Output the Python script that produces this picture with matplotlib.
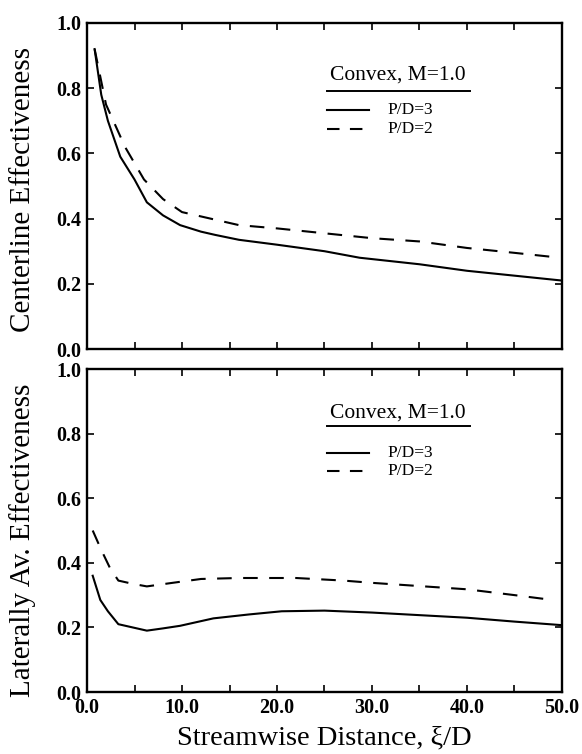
import matplotlib
matplotlib.use("Agg")
import matplotlib.pyplot as plt
from matplotlib.lines import Line2D

plt.rcParams["font.family"] = ["Liberation Serif", "DejaVu Serif"]

# centerline effectiveness (top panel)
xi_c3 = [0.8, 1.5, 2.2, 3.5, 5.0, 6.3, 8.0, 9.8, 12.0, 13.5, 16.0, 20.0, 25.0, 28.7, 35.0, 40.0, 45.0, 50.0]
eta_c3 = [0.92, 0.78, 0.70, 0.59, 0.52, 0.45, 0.41, 0.38, 0.36, 0.35, 0.335, 0.32, 0.30, 0.28, 0.26, 0.24, 0.225, 0.21]
xi_c2 = [0.8, 2.0, 4.0, 6.0, 8.0, 10.0, 13.0, 16.0, 20.0, 25.0, 30.0, 35.0, 40.0, 45.0, 49.8]
eta_c2 = [0.92, 0.75, 0.62, 0.52, 0.46, 0.42, 0.40, 0.38, 0.37, 0.355, 0.34, 0.33, 0.31, 0.295, 0.28]

# laterally averaged effectiveness (bottom panel)
xi_l3 = [0.6, 1.4, 2.2, 3.3, 4.8, 6.3, 8.0, 9.8, 13.3, 17.0, 20.5, 25.0, 30.0, 35.0, 40.0, 45.0, 50.0]
eta_l3 = [0.36, 0.285, 0.25, 0.21, 0.20, 0.19, 0.197, 0.205, 0.228, 0.24, 0.25, 0.252, 0.246, 0.238, 0.23, 0.218, 0.207]
xi_l2 = [0.6, 1.5, 2.4, 3.3, 4.8, 6.3, 9.0, 12.0, 16.0, 22.0, 27.0, 30.0, 35.0, 40.0, 45.0, 49.0]
eta_l2 = [0.50, 0.44, 0.385, 0.345, 0.335, 0.327, 0.338, 0.35, 0.353, 0.353, 0.345, 0.338, 0.328, 0.318, 0.30, 0.285]

legend_title = "Convex, M=1.0"
labels = ["P/D=3", "P/D=2"]

fig = plt.figure(figsize=(5.82, 7.54), dpi=100)
ax1 = fig.add_axes([0.1495, 0.5371, 0.8161, 0.4324])
ax2 = fig.add_axes([0.1495, 0.0822, 0.8161, 0.4284])

lw = 1.5
dash = (7, 5.5)


def style(ax):
    ax.set_xlim(0, 50)
    ax.set_ylim(0, 1.0)
    ax.set_xticks([0, 10, 20, 30, 40, 50])
    ax.set_xticks([5, 15, 25, 35, 45], minor=True)
    ax.set_yticks([0, 0.2, 0.4, 0.6, 0.8, 1.0])
    ax.tick_params(which="both", direction="in", top=True, right=True,
                   length=5, width=1.2, labelsize=14.5, pad=4)
    ax.yaxis.set_major_formatter(plt.FormatStrFormatter("%.1f"))
    ax.xaxis.set_major_formatter(plt.FormatStrFormatter("%.1f"))
    for lab in ax.get_xticklabels() + ax.get_yticklabels():
        lab.set_fontweight("bold")
    for s in ax.spines.values():
        s.set_linewidth(1.7)


def legend(ax, ytitle, yline, y1, y2):
    tr = ax.transAxes
    ax.text(0.512, ytitle, legend_title, transform=tr, fontsize=15.5,
            va="center", ha="left")
    ax.add_line(Line2D([0.505, 0.806], [yline, yline], transform=tr,
                       color="black", lw=1.4))
    ax.add_line(Line2D([0.505, 0.593], [y1, y1], transform=tr,
                       color="black", lw=lw))
    ax.add_line(Line2D([0.505, 0.593], [y2, y2], transform=tr,
                       color="black", lw=lw, dashes=(6, 5)))
    ax.text(0.632, y1, labels[0], transform=tr, fontsize=12.5, va="center")
    ax.text(0.632, y2, labels[1], transform=tr, fontsize=12.5, va="center")


ax1.plot(xi_c3, eta_c3, color="black", lw=lw)
ax1.plot(xi_c2, eta_c2, color="black", lw=lw, dashes=dash)
style(ax1)
ax1.tick_params(labelbottom=False)
ax1.set_ylabel("Centerline Effectiveness", fontsize=21)
ax1.yaxis.set_label_coords(-0.108, 0.49)
legend(ax1, 0.840, 0.792, 0.733, 0.675)

ax2.plot(xi_l3, eta_l3, color="black", lw=lw)
ax2.plot(xi_l2, eta_l2, color="black", lw=lw, dashes=dash)
style(ax2)
ax2.set_ylabel("Laterally Av. Effectiveness", fontsize=21)
ax2.yaxis.set_label_coords(-0.108, 0.47)
ax2.set_xlabel("Streamwise Distance, \u03be/D", fontsize=20.5)
ax2.xaxis.set_label_coords(0.5, -0.105)
legend(ax2, 0.864, 0.824, 0.74, 0.684)

fig.savefig("out.png", dpi=100)
